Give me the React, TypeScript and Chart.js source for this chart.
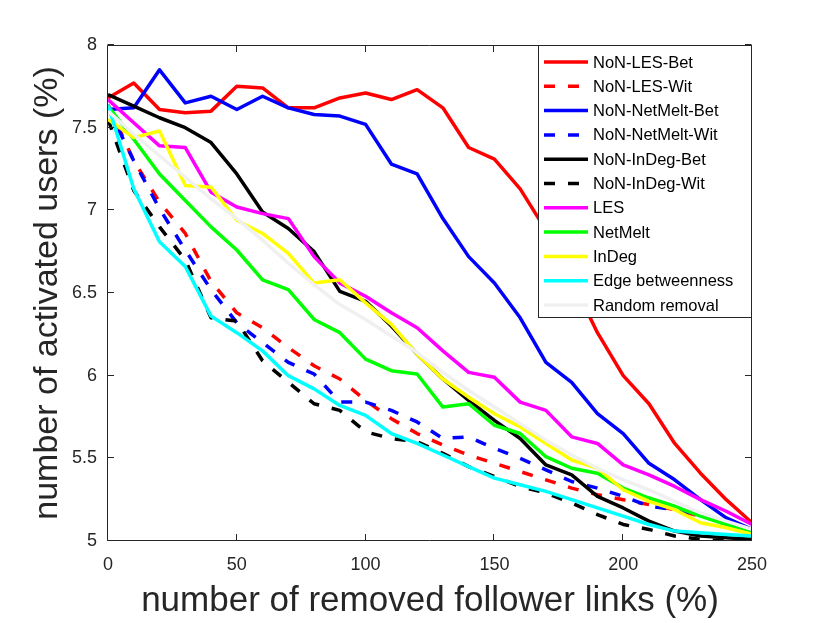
import React, { useEffect, useRef } from "react";
import { Chart, registerables } from "chart.js";

Chart.register(...registerables);

// removed follower links (%), one sample every 10
const removedLinks = [0, 10, 20, 30, 40, 50, 60, 70, 80, 90, 100, 110, 120, 130, 140, 150, 160, 170, 180, 190, 200, 210, 220, 230, 240, 250];

// activated users (%) per strategy
const nonLesBet = [7.68, 7.77, 7.61, 7.59, 7.60, 7.75, 7.74, 7.62, 7.62, 7.68, 7.71, 7.67, 7.73, 7.62, 7.38, 7.31, 7.13, 6.88, 6.58, 6.26, 6.00, 5.83, 5.59, 5.41, 5.25, 5.11];
const nonLesWit = [7.64, 7.30, 7.05, 6.86, 6.57, 6.38, 6.29, 6.17, 6.06, 5.98, 5.85, 5.74, 5.65, 5.58, 5.52, 5.47, 5.42, 5.37, 5.32, 5.28, 5.25, 5.22, 5.19, 5.15, 5.11, 5.08];
const nonNetMeltBet = [7.61, 7.62, 7.85, 7.65, 7.69, 7.61, 7.69, 7.62, 7.58, 7.57, 7.52, 7.28, 7.22, 6.95, 6.72, 6.56, 6.35, 6.08, 5.96, 5.77, 5.65, 5.47, 5.37, 5.25, 5.14, 5.07];
const nonNetMeltWit = [7.62, 7.30, 7.01, 6.76, 6.52, 6.32, 6.20, 6.08, 6.01, 5.84, 5.84, 5.79, 5.72, 5.62, 5.63, 5.56, 5.50, 5.43, 5.36, 5.32, 5.27, 5.21, 5.19, 5.16, 5.12, 5.07];
const nonInDegBet = [7.70, 7.63, 7.56, 7.50, 7.41, 7.22, 6.99, 6.89, 6.75, 6.51, 6.45, 6.30, 6.13, 5.98, 5.85, 5.73, 5.62, 5.46, 5.40, 5.27, 5.20, 5.12, 5.06, 5.03, 5.02, 5.01];
const nonInDegWit = [7.55, 7.12, 6.90, 6.70, 6.35, 6.33, 6.09, 5.96, 5.83, 5.79, 5.66, 5.62, 5.60, 5.53, 5.45, 5.39, 5.33, 5.29, 5.23, 5.16, 5.10, 5.07, 5.03, 5.01, 5.00, 5.00];
const les = [7.67, 7.53, 7.39, 7.38, 7.11, 7.02, 6.98, 6.95, 6.72, 6.56, 6.48, 6.38, 6.29, 6.15, 6.02, 5.99, 5.84, 5.79, 5.63, 5.59, 5.46, 5.40, 5.33, 5.25, 5.18, 5.10];
const netMelt = [7.63, 7.43, 7.22, 7.06, 6.90, 6.76, 6.58, 6.52, 6.34, 6.26, 6.10, 6.03, 6.01, 5.81, 5.83, 5.70, 5.65, 5.51, 5.44, 5.41, 5.32, 5.26, 5.21, 5.15, 5.10, 5.05];
const inDeg = [7.55, 7.44, 7.48, 7.15, 7.14, 6.94, 6.86, 6.74, 6.56, 6.58, 6.44, 6.31, 6.13, 5.98, 5.87, 5.77, 5.69, 5.59, 5.49, 5.44, 5.31, 5.24, 5.19, 5.11, 5.08, 5.04];
const edgeBetweenness = [7.64, 7.13, 6.81, 6.66, 6.36, 6.26, 6.15, 6.00, 5.92, 5.82, 5.76, 5.65, 5.59, 5.52, 5.45, 5.38, 5.34, 5.30, 5.25, 5.20, 5.15, 5.10, 5.06, 5.05, 5.04, 5.03];
const randomRemoval = [7.60, 7.46, 7.33, 7.20, 7.07, 6.95, 6.82, 6.68, 6.55, 6.43, 6.34, 6.24, 6.14, 6.02, 5.91, 5.81, 5.71, 5.61, 5.52, 5.44, 5.37, 5.31, 5.24, 5.17, 5.12, 5.07];

const FONT = "'Liberation Sans', Arial, Helvetica, sans-serif";
const AXIS = "#262626";
const DASH = [11, 13];

const series = [
    { label: "NoN-LES-Bet", values: nonLesBet, color: "#ff0000", dashed: false },
    { label: "NoN-LES-Wit", values: nonLesWit, color: "#ff0000", dashed: true },
    { label: "NoN-NetMelt-Bet", values: nonNetMeltBet, color: "#0000ff", dashed: false },
    { label: "NoN-NetMelt-Wit", values: nonNetMeltWit, color: "#0000ff", dashed: true },
    { label: "NoN-InDeg-Bet", values: nonInDegBet, color: "#000000", dashed: false },
    { label: "NoN-InDeg-Wit", values: nonInDegWit, color: "#000000", dashed: true },
    { label: "LES", values: les, color: "#ff00ff", dashed: false },
    { label: "NetMelt", values: netMelt, color: "#00ff00", dashed: false },
    { label: "InDeg", values: inDeg, color: "#ffff00", dashed: false },
    { label: "Edge betweenness", values: edgeBetweenness, color: "#00ffff", dashed: false },
    { label: "Random removal", values: randomRemoval, color: "#f0f0f0", dashed: false },
];

// matlab style box with inward ticks on all four sides
const frame = {
    id: "frame",
    afterDatasetsDraw(chart) {
        const { ctx, chartArea, scales } = chart;
        const { left, right, top, bottom } = chartArea;
        const len = 6.5;
        const l = Math.round(left) - 0.5, r = Math.round(right) - 0.5;
        const t = Math.round(top) + 0.5, b = Math.round(bottom) - 0.5;
        ctx.save();
        ctx.strokeStyle = AXIS;
        ctx.lineWidth = 1;
        ctx.beginPath();
        scales.x.ticks.forEach((tick) => {
            const px = Math.round(scales.x.getPixelForValue(tick.value)) - 0.5;
            ctx.moveTo(px, b); ctx.lineTo(px, b - len);
            ctx.moveTo(px, t); ctx.lineTo(px, t + len);
        });
        scales.y.ticks.forEach((tick) => {
            const py = Math.round(scales.y.getPixelForValue(tick.value)) - 0.5;
            ctx.moveTo(l, py); ctx.lineTo(l + len, py);
            ctx.moveTo(r, py); ctx.lineTo(r - len, py);
        });
        ctx.rect(l, t, r - l, b - t);
        ctx.stroke();
        ctx.restore();
    }
};

// legend box sitting in the top right corner of the axes
const legendBox = {
    id: "legendBox",
    afterDraw(chart) {
        const { ctx, chartArea } = chart;
        const w = 214, h = 273;
        const x0 = Math.round(chartArea.right) - w, y0 = Math.round(chartArea.top);
        ctx.save();
        ctx.fillStyle = "#ffffff";
        ctx.fillRect(x0, y0, w, h);
        ctx.strokeStyle = AXIS;
        ctx.lineWidth = 1;
        ctx.strokeRect(x0 + 0.5, y0 + 0.5, w - 1, h - 1);
        ctx.font = `16.5px ${FONT}`;
        ctx.textBaseline = "middle";
        ctx.textAlign = "left";
        chart.data.datasets.forEach((ds, i) => {
            const cy = y0 + 17 + i * 24.3;
            ctx.strokeStyle = ds.borderColor;
            ctx.lineWidth = 3.5;
            ctx.setLineDash(ds.borderDash || []);
            ctx.beginPath();
            ctx.moveTo(x0 + 6, cy);
            ctx.lineTo(x0 + 50, cy);
            ctx.stroke();
            ctx.setLineDash([]);
            ctx.fillStyle = "#000000";
            ctx.fillText(ds.label, x0 + 55, cy + 1);
        });
        ctx.restore();
    }
};

export default function App() {
    const canvasRef = useRef<HTMLCanvasElement>(null);

    useEffect(() => {
        document.body.style.margin = "0";
        if (!canvasRef.current) return;

        const datasets = series.map((s, i) => ({
            label: s.label,
            data: removedLinks.map((x, j) => ({ x, y: s.values[j] })),
            borderColor: s.color,
            backgroundColor: s.color,
            borderWidth: 3.5,
            borderDash: s.dashed ? DASH : [],
            borderCapStyle: "butt",
            borderJoinStyle: "round",
            pointRadius: 0,
            tension: 0,
            fill: false,
            order: series.length - i, // later series on top, like matlab
        }));

        const chart = new Chart(canvasRef.current, {
            type: "line",
            data: { datasets },
            plugins: [frame, legendBox],
            options: {
                animation: false,
                responsive: true,
                maintainAspectRatio: false,
                layout: { padding: { top: 45, right: 78, left: 0, bottom: 0 } },
                plugins: {
                    legend: { display: false },
                    tooltip: { enabled: false },
                },
                scales: {
                    x: {
                        type: "linear",
                        min: 0,
                        max: 250,
                        grid: { display: false, drawTicks: false },
                        border: { display: false },
                        ticks: {
                            stepSize: 50,
                            padding: 13,
                            color: AXIS,
                            font: { family: FONT, size: 18 },
                            maxRotation: 0,
                        },
                        title: {
                            display: true,
                            text: "number of removed follower links (%)",
                            color: AXIS,
                            font: { family: FONT, size: 35 },
                            padding: { top: 0, bottom: 1 },
                        },
                        afterFit: (scale) => { scale.height = 82; },
                    },
                    y: {
                        min: 5,
                        max: 8,
                        grid: { display: false, drawTicks: false },
                        border: { display: false },
                        ticks: {
                            stepSize: 0.5,
                            padding: 11,
                            color: AXIS,
                            font: { family: FONT, size: 18 },
                            callback: (v) => `${v}`,
                        },
                        title: {
                            display: true,
                            text: "number of activated users (%)",
                            color: AXIS,
                            font: { family: FONT, size: 34 },
                            padding: { top: 27, bottom: 0 },
                        },
                        afterFit: (scale) => { scale.width = 108; },
                    },
                },
            } as any,
        });

        return () => {
            chart.destroy();
        };
    }, []);

    return (
        <div style={{ position: "absolute", left: 0, top: 0, width: 830, height: 623, background: "#ffffff" }}>
            <canvas ref={canvasRef}></canvas>
        </div>
    );
}
